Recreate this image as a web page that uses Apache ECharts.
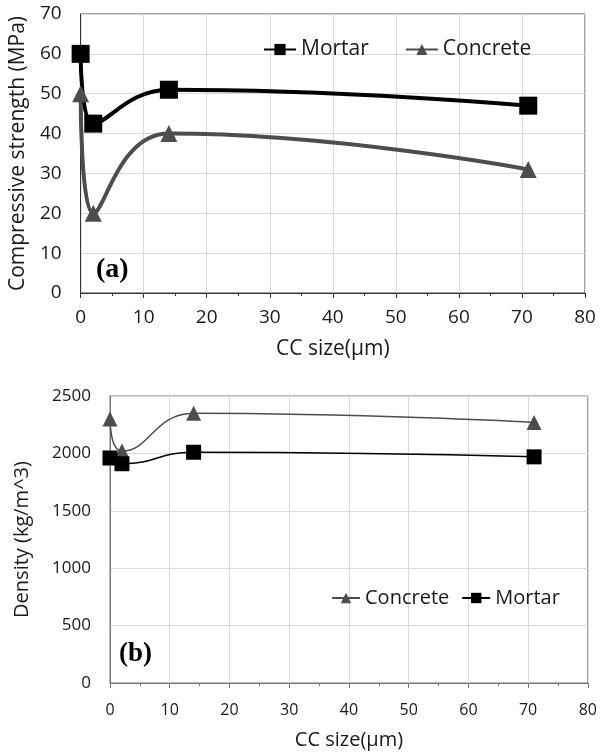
<!DOCTYPE html>
<html lang="en">
<head>
    <meta charset="UTF-8">
    <title>CC size</title>
    <script src="https://cdn.jsdelivr.net/npm/echarts@6/dist/echarts.min.js"></script>
    <style>
        body { margin: 0; background: #fff; }
        #main { width: 600px; height: 753px; }
    </style>
</head>
<body>
<div id="main"></div>
<script>
    // CC size (µm)
    var ccSize = [0, 2, 14, 71];
    // (a) compressive strength, MPa
    var mortarStrength = [60, 42.5, 51, 47];
    var concreteStrength = [50, 20, 40, 31];
    // (b) density, kg/m^3
    var concreteDensity = [2300, 2020, 2350, 2270];
    var mortarDensity = [1960, 1910, 2010, 1970];

    function pairs(xs, ys) {
        return xs.map(function (x, i) { return [x, ys[i]]; });
    }
    function plain(v) { return String(v); }

    var font = 'Open Sans';
    var myChart = echarts.init(document.getElementById('main'));

    function xAx(idx, size, nameSize, margin, gap, col) {
        return {
            type: 'value', gridIndex: idx, min: 0, max: 80, interval: 10,
            name: 'CC size(\u03bcm)', nameLocation: 'middle', nameGap: gap,
            nameTextStyle: { fontFamily: font, fontSize: nameSize, color: '#1a1a1a' },
            axisLine: { lineStyle: { color: col } },
            axisTick: { length: 5, lineStyle: { color: col } },
            minorTick: { show: true, splitNumber: 2, length: 3, lineStyle: { color: col } },
            axisLabel: { fontFamily: font, fontSize: size, color: '#1a1a1a', margin: margin, formatter: plain },
            splitLine: { show: true, lineStyle: { color: '#d9d9d9' } }
        };
    }

    var option = {
        animation: false,
        backgroundColor: '#fff',
        grid: [
            { left: 78, right: 15, top: 14, height: 279, show: true, borderColor: '#444', borderWidth: 1 },
            { left: 110, right: 11, top: 396, height: 287, show: true, borderColor: '#777', borderWidth: 1 }
        ],
        xAxis: [xAx(0, 19, 21, 15, 46, '#333'), xAx(1, 16, 20, 19, 47, '#777')],
        yAxis: [
            {
                type: 'value', gridIndex: 0, min: 0, max: 70, interval: 10,
                name: 'Compressive strength (MPa)', nameLocation: 'middle', nameGap: 46,
                nameTextStyle: { fontFamily: font, fontSize: 21, color: '#1a1a1a' },
                axisLine: { show: true, lineStyle: { color: '#333' } },
                axisTick: { show: false },
                axisLabel: { fontFamily: font, fontSize: 19, color: '#1a1a1a', margin: 19, formatter: plain },
                splitLine: { lineStyle: { color: '#d9d9d9' } }
            },
            {
                type: 'value', gridIndex: 1, min: 0, max: 2500, interval: 500,
                name: 'Density (kg/m^3)', nameLocation: 'middle', nameGap: 78,
                nameTextStyle: { fontFamily: font, fontSize: 20, color: '#1a1a1a' },
                axisLine: { show: true, lineStyle: { color: '#777' } },
                axisTick: { show: false },
                axisLabel: { fontFamily: font, fontSize: 17, color: '#1a1a1a', margin: 19, formatter: plain },
                splitLine: { lineStyle: { color: '#d9d9d9' } }
            }
        ],
        legend: [
            {
                data: ['Mortar', 'Concrete'], left: 258, top: 34, itemWidth: 32, itemHeight: 14, itemGap: 36,
                textStyle: { fontFamily: font, fontSize: 21, color: '#1a1a1a' }
            },
            {
                data: ['Concrete ', 'Mortar '], left: 326, top: 583, itemWidth: 28, itemHeight: 13, itemGap: 12,
                formatter: function (n) { return n.trim(); },
                textStyle: { fontFamily: font, fontSize: 20, color: '#1a1a1a' }
            }
        ],
        graphic: [
            { type: 'text', left: 96, top: 256, style: { text: '(a)', font: 'bold 28px "Liberation Serif"', fill: '#000' } },
            { type: 'text', left: 119, top: 641, style: { text: '(b)', font: 'bold 27px "Liberation Serif"', fill: '#000' } }
        ],
        series: [
            {
                name: 'Mortar', type: 'line', xAxisIndex: 0, yAxisIndex: 0, smooth: 0.5,
                data: pairs(ccSize, mortarStrength), symbol: 'rect', symbolSize: 18,
                lineStyle: { color: '#000', width: 4 }, itemStyle: { color: '#000' }
            },
            {
                name: 'Concrete', type: 'line', xAxisIndex: 0, yAxisIndex: 0, smooth: 0.5,
                data: pairs(ccSize, concreteStrength), symbol: 'triangle', symbolSize: 17,
                lineStyle: { color: '#4d4d4d', width: 4 }, itemStyle: { color: '#4d4d4d' }
            },
            {
                name: 'Concrete ', type: 'line', xAxisIndex: 1, yAxisIndex: 1, smooth: 0.5,
                data: pairs(ccSize, concreteDensity), symbol: 'triangle', symbolSize: 15,
                lineStyle: { color: '#4d4d4d', width: 1.5 }, itemStyle: { color: '#4d4d4d' }
            },
            {
                name: 'Mortar ', type: 'line', xAxisIndex: 1, yAxisIndex: 1, smooth: 0.5,
                data: pairs(ccSize, mortarDensity), symbol: 'rect', symbolSize: 15,
                lineStyle: { color: '#000', width: 1.5 }, itemStyle: { color: '#000' }
            }
        ]
    };
    myChart.setOption(option);
</script>
</body>
</html>
